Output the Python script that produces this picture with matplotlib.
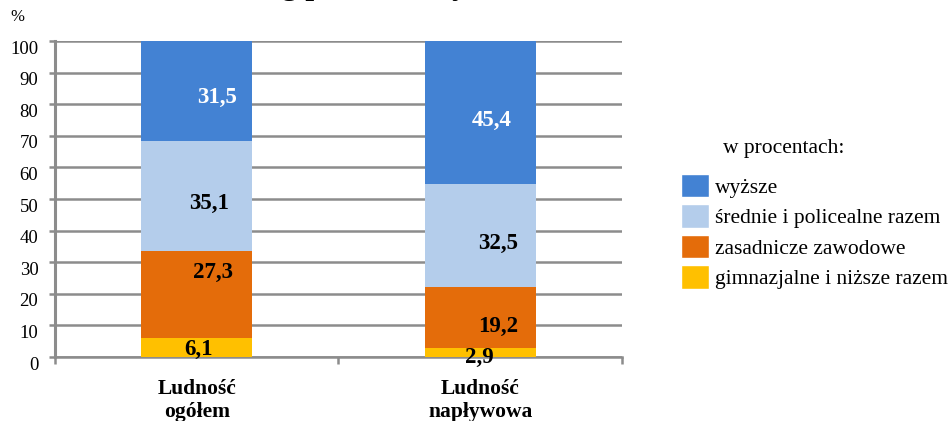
import matplotlib
matplotlib.use("Agg")
import matplotlib.pyplot as plt
import matplotlib.transforms as mtransforms
from matplotlib.patches import Patch
import numpy as np

plt.rcParams['font.family'] = ['Liberation Serif', 'DejaVu Serif']

categories = ["Ludność\nogółem", "Ludność\nnapływowa"]
series = ["gimnazjalne i niższe razem", "zasadnicze zawodowe",
          "średnie i policealne razem", "wyższe"]
values = {
    "gimnazjalne i niższe razem": [6.1, 2.9],
    "zasadnicze zawodowe": [27.3, 19.2],
    "średnie i policealne razem": [35.1, 32.5],
    "wyższe": [31.5, 45.4],
}
colors = ["#FFC000", "#E46C0A", "#B4CDEB", "#4382D3"]
label_colors = ["black", "black", "black", "white"]
# label nudges in pixels (x, y) per series, per bar
nudges = {
    "gimnazjalne i niższe razem": [(2, -2), (-1, -5)],
    "zasadnicze zawodowe": [(16, 22), (18, -9)],
    "średnie i policealne razem": [(12, -7), (18, -8)],
    "wyższe": [(20, -7), (11, -8)],
}

fig = plt.figure(figsize=(9.5, 4.21), dpi=100)
ax = fig.add_axes([55/950, 1 - 357/421, (622-55)/950, (357-41)/421])

x = np.arange(len(categories))
bottom = np.zeros(len(categories))
for s, c, lc in zip(series, colors, label_colors):
    v = np.array(values[s])
    ax.bar(x, v, 0.39, bottom=bottom, color=c, zorder=3)
    for i in range(len(x)):
        dx, dy = nudges[s][i]
        ax.annotate(f"{v[i]:.1f}".replace(".", ","), (x[i], bottom[i] + v[i]/2),
                    xytext=(dx, dy), textcoords="offset pixels",
                    ha="center", va="center", fontsize=16.5, fontweight="bold",
                    color=lc, zorder=4)
    bottom += v

ax.set_xlim(-0.5, 1.5)
ax.set_ylim(0, 100)
ax.set_yticks(np.arange(0, 101, 10))
ax.yaxis.grid(True, color="#8c8c8c", lw=1.8, zorder=0)
ax.set_axisbelow(True)
for sp in ["top", "right"]:
    ax.spines[sp].set_visible(False)
ax.spines["left"].set_color("#8c8c8c")
ax.spines["left"].set_linewidth(2.2)
ax.spines["bottom"].set_color("#8c8c8c")
ax.spines["bottom"].set_linewidth(1.8)
ax.tick_params(axis="y", length=4, width=1.8, color="#8c8c8c", pad=8, labelsize=13.5)
shift = mtransforms.ScaledTranslation(0, -6/100, fig.dpi_scale_trans)
for lab in ax.get_yticklabels():
    lab.set_transform(lab.get_transform() + shift)

ax.set_xticks(x)
ax.set_xticklabels(categories, fontsize=15.5, fontweight="bold", linespacing=1.2)
ax.set_xticks([-0.5, 0.5, 1.5], minor=True)
ax.tick_params(axis="x", which="major", length=0, pad=16)
ax.tick_params(axis="x", which="minor", length=5, width=1.8, color="#8c8c8c")

fig.text(10/950, 1 - 17/421, "%", fontsize=12, va="center")
fig.text(77/950, 1 + 6/421, "Ludność według poziomu wykształcenia",
         fontsize=22.8, fontweight="bold", va="baseline", ha="left")

handles = [Patch(facecolor=c, edgecolor="white", label=s)
           for s, c in zip(series[::-1], colors[::-1])]
fig.legend(handles=handles, loc="upper left", bbox_to_anchor=(681/950, 1 - 174/421),
           frameon=False, fontsize=15.5, borderpad=0, borderaxespad=0,
           handlelength=1.3, handleheight=1.3, handletextpad=0.28,
           labelspacing=0.3)
fig.text(723/950, 1 - 148/421, "w procentach:", fontsize=15.5, va="center")

fig.savefig("out.png", dpi=100)
